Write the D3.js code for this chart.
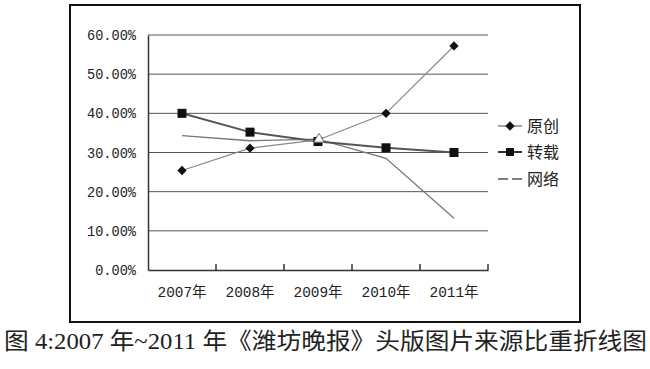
<!DOCTYPE html>
<html><head><meta charset="utf-8">
<script src="https://cdn.jsdelivr.net/npm/d3@7"></script>
<style>body{margin:0;background:#fff}svg{display:block}</style>
</head><body>
<script>
const categories = ["2007年","2008年","2009年","2010年","2011年"];
const yuanchuang = [25.4, 31.1, 33.2, 40.0, 57.2];
const zhuanzai = [40.0, 35.2, 32.8, 31.2, 30.0];
const wangluo = [34.3, 33.0, 33.4, 28.5, 13.2];
const yTicks = [0, 10, 20, 30, 40, 50, 60];
const seriesNames = ["原创", "转载", "网络"];
const caption = "图 4:2007 年~2011 年《潍坊晚报》头版图片来源比重折线图";

const W = 650, H = 369;
const svg = d3.select("body").append("svg").attr("width", W).attr("height", H);
svg.append("rect").attr("width", W).attr("height", H).attr("fill", "#fff");

// outer frame
svg.append("rect").attr("x", 70).attr("y", 5).attr("width", 510).attr("height", 317)
  .attr("fill", "none").attr("stroke", "#111").attr("stroke-width", 2);

const x = d3.scaleBand().domain(categories).range([148, 488]);
const y = d3.scaleLinear().domain([0, 60]).range([270, 35]);
const cx = d => x(d) + x.bandwidth() / 2;

// gridlines
svg.append("g").selectAll("line").data(yTicks.filter(t => t > 0)).join("line")
  .attr("x1", 148).attr("x2", 488).attr("y1", d => y(d)).attr("y2", d => y(d))
  .attr("stroke", "#555").attr("stroke-width", 1);

// y axis
const yAxis = d3.axisLeft(y).tickValues(yTicks).tickSize(0).tickPadding(12)
  .tickFormat(d => d.toFixed(2) + "%");
const gy = svg.append("g").attr("transform", "translate(148,0)").call(yAxis);
gy.select(".domain").attr("stroke", "#333").attr("stroke-width", 1.5);
gy.selectAll("text").attr("font-family", "'Liberation Mono', 'DejaVu Sans Mono', monospace")
  .attr("font-size", 14.5)
  .attr("textLength", function() { return this.textContent.length * 49 / 6; })
  .attr("lengthAdjust", "spacingAndGlyphs")
  .attr("fill", "#222");

// x axis
const xAxis = d3.axisBottom(x).tickSize(0).tickPadding(16);
const gx = svg.append("g").attr("transform", "translate(0,270)").call(xAxis);
gx.select(".domain").attr("stroke", "#333").attr("stroke-width", 1.5);
gx.selectAll("text").attr("font-family", "'Liberation Mono', 'Noto Sans CJK SC', monospace")
  .attr("font-size", 15).attr("textLength", 49).attr("lengthAdjust", "spacingAndGlyphs")
  .attr("fill", "#222");
// band boundary ticks pointing up
const bounds = categories.slice(1).map(c => x(c)).concat([x.range()[1]]);
svg.append("g").selectAll("line").data(bounds).join("line")
  .attr("x1", d => d).attr("x2", d => d).attr("y1", 270).attr("y2", 264)
  .attr("stroke", "#333").attr("stroke-width", 1.5);

const line = d3.line().x((d, i) => cx(categories[i])).y(d => y(d));

// 网络
svg.append("path").datum(wangluo).attr("d", line).attr("fill", "none")
  .attr("stroke", "#777").attr("stroke-width", 1.3);
// 转载
svg.append("path").datum(zhuanzai).attr("d", line).attr("fill", "none")
  .attr("stroke", "#555").attr("stroke-width", 2);
// 原创
svg.append("path").datum(yuanchuang).attr("d", line).attr("fill", "none")
  .attr("stroke", "#888").attr("stroke-width", 1.2);

// markers
const diamond = d3.symbol().type(d3.symbolDiamond2).size(55);
svg.append("g").selectAll("path").data(yuanchuang).join("path")
  .attr("d", diamond).attr("transform", (d, i) => `translate(${cx(categories[i])},${y(d)})`)
  .attr("fill", "#111");
svg.append("g").selectAll("rect").data(zhuanzai).join("rect")
  .attr("x", (d, i) => cx(categories[i]) - 4.5).attr("y", d => y(d) - 4.5)
  .attr("width", 9).attr("height", 9).attr("fill", "#111");
// white triangle at 2009 on 网络
const tri = d3.symbol().type(d3.symbolTriangle).size(45);
svg.append("path").attr("d", tri)
  .attr("transform", `translate(${cx(categories[2]) + 1},${y(wangluo[2])})`)
  .attr("fill", "#fff").attr("stroke", "#777").attr("stroke-width", 1);

// legend
const ly = [126, 152, 179];
const lg = svg.append("g");
seriesNames.forEach((n, i) => {
  const g = lg.append("g").attr("transform", `translate(0,${ly[i]})`);
  if (i === 2) {
    g.append("line").attr("x1", 498).attr("x2", 508).attr("stroke", "#555").attr("stroke-width", 1.5);
    g.append("line").attr("x1", 512).attr("x2", 522).attr("stroke", "#555").attr("stroke-width", 1.5);
  } else {
    g.append("line").attr("x1", 498).attr("x2", 522).attr("stroke", i === 0 ? "#666" : "#333")
      .attr("stroke-width", i === 0 ? 1.2 : 2);
    if (i === 0) g.append("path").attr("d", diamond).attr("transform", "translate(510,0)").attr("fill", "#111");
    else g.append("rect").attr("x", 506).attr("y", -4).attr("width", 8).attr("height", 8).attr("fill", "#111");
  }
  g.append("text").attr("x", 527).attr("y", 0).attr("dy", "0.36em")
    .attr("font-family", "'Noto Sans CJK SC'").attr("font-size", 16).attr("fill", "#222").text(n);
});

// caption
svg.append("text").attr("x", 4).attr("y", 349)
  .attr("font-family", "'Liberation Serif', 'Noto Sans CJK SC', serif").attr("font-size", 23)
  .attr("textLength", 643).attr("lengthAdjust", "spacingAndGlyphs")
  .attr("fill", "#222").text(caption);
</script>
</body></html>
